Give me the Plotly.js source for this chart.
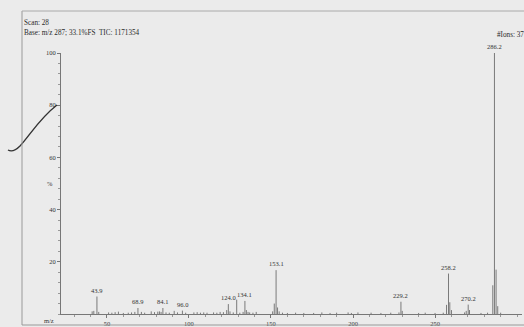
<!DOCTYPE html>
<html>
<head>
<meta charset="utf-8">
<script src="https://cdn.plot.ly/plotly-3.0.1.min.js"></script>
<style>html,body{margin:0;padding:0;background:#ebebeb;}#chart{width:524px;height:327px;}</style>
</head>
<body>
<div id="chart"></div>
<script>
// m/z values of peaks and their relative intensities (%)
var mz = [41, 42, 43.9, 45, 51, 53, 55, 57, 60, 63, 65, 67, 68.9, 71, 73, 77, 79, 81, 82, 83, 84.1, 86, 88, 91, 93, 96.0, 98,
  103, 105, 107, 109, 111, 115, 117, 119, 121, 123, 124.0, 125, 127, 129.1, 131, 133, 134.1, 135, 136, 137, 139, 141,
  151, 152, 153.1, 154, 155, 157, 160, 165, 170, 176, 181, 186, 190, 197, 199, 203, 211, 217, 223, 228, 229.2, 230,
  240, 244, 250, 255, 257, 258.2, 259, 260, 268, 269, 270.2, 271, 278, 282, 285.2, 286.2, 287.2, 288.2, 290];
var intensity = [1.0, 1.2, 6.7, 0.8, 0.6, 0.5, 0.7, 0.9, 0.4, 0.5, 0.6, 0.8, 2.3, 0.8, 0.5, 1.0, 0.7, 0.9, 1.0, 0.8, 2.3, 0.6, 0.5, 1.2, 0.6, 1.3, 0.5,
  0.6, 0.7, 0.5, 0.6, 0.5, 0.6, 0.5, 0.8, 0.7, 1.5, 3.8, 1.0, 0.6, 5.5, 0.5, 0.8, 5.0, 1.5, 0.8, 0.6, 0.5, 0.8,
  1.0, 4.0, 16.8, 2.5, 1.0, 0.5, 0.4, 0.5, 0.4, 0.4, 0.6, 0.4, 0.5, 0.6, 0.4, 0.6, 0.5, 0.4, 0.5, 0.6, 4.7, 1.2,
  0.4, 0.5, 0.4, 0.5, 3.5, 15.5, 4.5, 1.5, 0.6, 1.2, 3.6, 1.5, 0.4, 0.5, 11, 100, 17, 3, 0.5];
// labelled peaks
var labelMz = [43.9, 68.9, 84.1, 96.0, 124.0, 134.1, 153.1, 229.2, 258.2, 270.2, 286.2];
var labelText = ["43.9", "68.9", "84.1", "96.0", "124.0", "134.1", "153.1", "229.2", "258.2", "270.2", "286.2"];
var xTicks = [50, 100, 150, 200, 250];
var yTicks = [20, 40, 60, 80, 100];

// stick spectrum built from the arrays
var sx = [], sy = [];
for (var i = 0; i < mz.length; i++) { sx.push(mz[i], mz[i], null); sy.push(0, intensity[i], null); }

var W = 524, H = 327, L = 61, R = 2, T = 53, B = 13;
var pw = W - L - R, ph = H - T - B;
function px(x) { return (x - L) / pw; }
function py(y) { return (H - B - y) / ph; }

var font = {family: "Liberation Serif, Times New Roman, serif", size: 6.5, color: "#333"};
var hfont = {family: font.family, size: 7.2, color: "#2a2a2a"};

var annotations = [];
for (var j = 0; j < labelMz.length; j++) {
  var k = mz.indexOf(labelMz[j]);
  annotations.push({x: labelMz[j], y: intensity[k], text: labelText[j], showarrow: false,
    yanchor: "bottom", xanchor: "center", yshift: 1, font: font});
}
annotations.push({xref: "paper", yref: "paper", x: px(22), y: py(23), xanchor: "left", yanchor: "middle",
  text: "Scan: 28", showarrow: false, font: hfont});
annotations.push({xref: "paper", yref: "paper", x: px(22), y: py(33), xanchor: "left", yanchor: "middle",
  text: "Base: m/z 287; 33.1%FS  TIC: 1171354", showarrow: false, font: hfont});
annotations.push({xref: "paper", yref: "paper", x: px(495), y: py(35), xanchor: "left", yanchor: "middle",
  text: "#Ions: 37", showarrow: false, font: hfont});
annotations.push({xref: "paper", yref: "paper", x: px(49), y: py(320), xanchor: "center", yanchor: "middle",
  text: "m/z", showarrow: false, font: font});
annotations.push({xref: "paper", yref: "paper", x: px(50), y: py(183), xanchor: "center", yanchor: "middle",
  text: "%", showarrow: false, font: font});

// hand-drawn pen stroke (smooth curve) and scan frame
function pt(p) { return px(p[0]) + "," + py(p[1]); }
var path = "M" + pt([8,150]) + " Q" + pt([13,153]) + " " + pt([20,146]) +
  " C" + pt([30,135]) + " " + pt([40,118]) + " " + pt([57,105]);
var shapes = [
  {type: "path", xref: "paper", yref: "paper", path: path, line: {color: "#333", width: 1.4}},
  {type: "line", xref: "paper", yref: "paper", x0: px(22), x1: px(22), y0: py(11), y1: py(325), line: {color: "#999", width: 1}},
  {type: "line", xref: "paper", yref: "paper", x0: px(22), x1: px(524), y0: py(11), y1: py(11), line: {color: "#aaa", width: 1}},
  {type: "line", xref: "paper", yref: "paper", x0: px(22), x1: px(524), y0: py(325), y1: py(325), line: {color: "#999", width: 1}}
];

Plotly.newPlot("chart", [{
  type: "scatter", mode: "lines", x: sx, y: sy, connectgaps: false,
  line: {color: "#7a7a7a", width: 1}, hoverinfo: "skip"
}], {
  width: W, height: H,
  margin: {l: L, r: R, t: T, b: B, pad: 0},
  paper_bgcolor: "#ebebeb", plot_bgcolor: "#ebebeb",
  showlegend: false,
  font: font,
  xaxis: {range: [22, 303], tickvals: xTicks, ticks: "outside", ticklen: 3, tickcolor: "#777",
    showline: true, linecolor: "#777", linewidth: 1, showgrid: false, zeroline: false,
    tickfont: font, minor: {dtick: 10, ticks: "outside", ticklen: 2, tickcolor: "#999"}},
  yaxis: {range: [0, 100], tickvals: yTicks, ticks: "outside", ticklen: 3, tickcolor: "#777",
    showline: true, linecolor: "#777", linewidth: 1, showgrid: false, zeroline: false,
    tickfont: font, minor: {dtick: 4, ticks: "outside", ticklen: 2, tickcolor: "#999"}},
  annotations: annotations,
  shapes: shapes
}, {staticPlot: true});
</script>
</body>
</html>
